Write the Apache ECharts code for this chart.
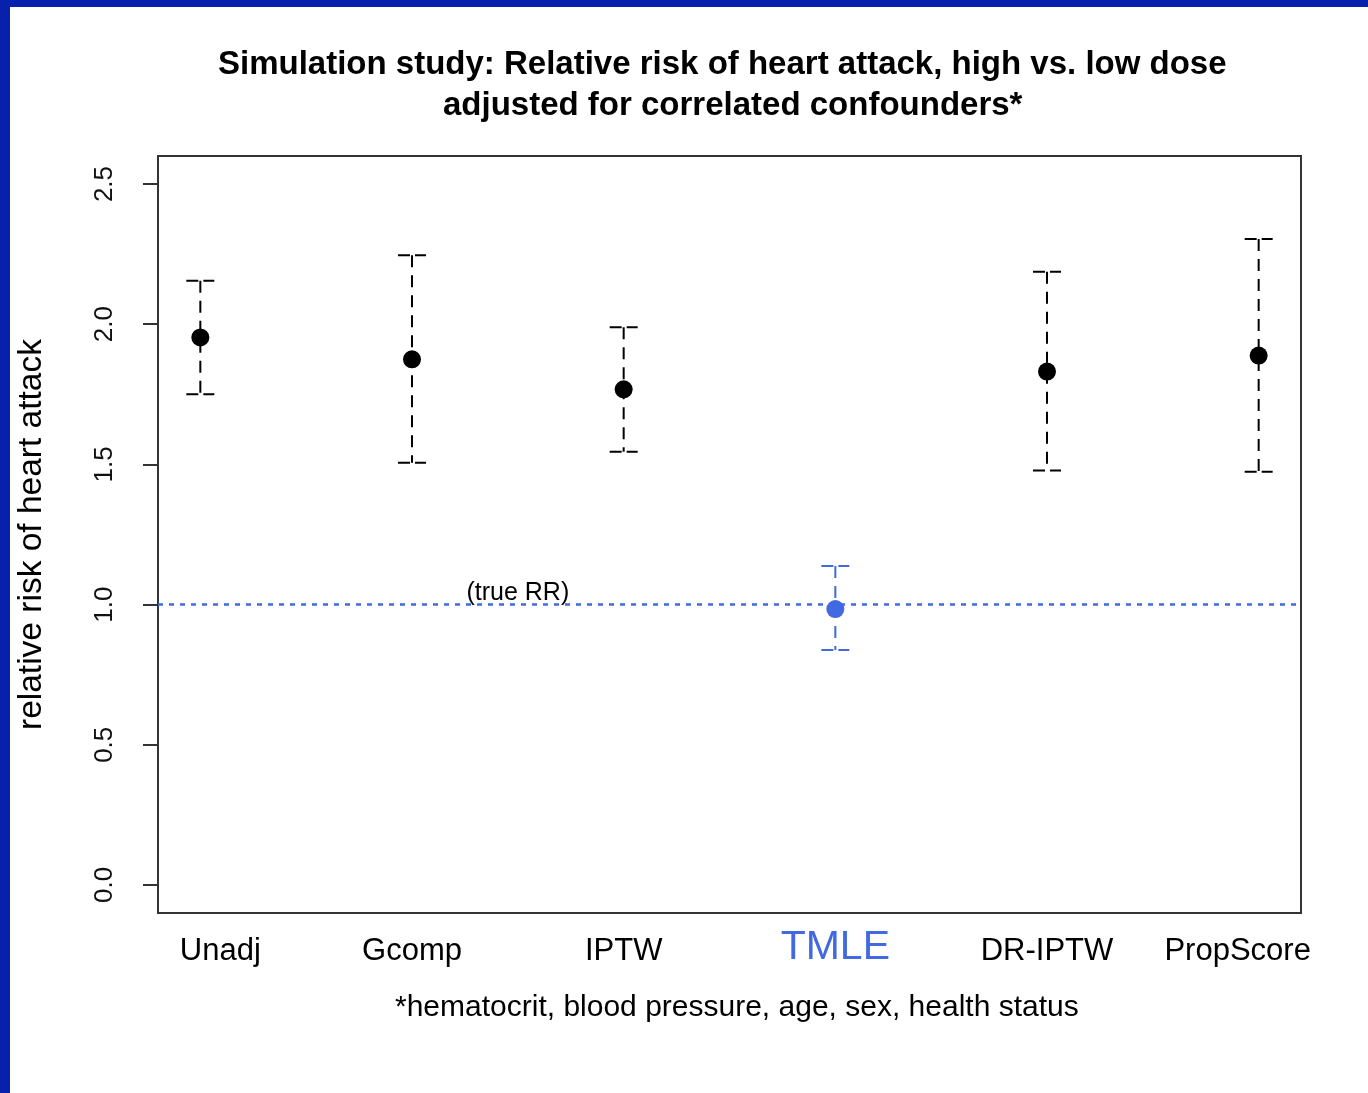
<!DOCTYPE html>
<html>
<head>
<meta charset="utf-8">
<script src="https://cdn.jsdelivr.net/npm/echarts@6/dist/echarts.min.js"></script>
<style>
  html, body { margin: 0; padding: 0; background: #fff; }
  #chart { position: absolute; left: 0; top: 0; width: 1368px; height: 1093px; background: #fff; }
  .edge { position: absolute; background: #0721ac; }
</style>
</head>
<body>
<div id="chart"></div>
<div class="edge" style="left:0;top:0;width:1368px;height:7px"></div>
<div class="edge" style="left:0;top:0;width:10px;height:1093px"></div>
<script>
// estimators, in plotting order (x = 1..6)
const methods = ['Unadj', 'Gcomp', 'IPTW', 'TMLE', 'DR-IPTW', 'PropScore'];
// point estimates of the relative risk
const estimate = [1.953, 1.875, 1.768, 0.984, 1.831, 1.888];
// lower / upper ends of the intervals
const lower = [1.750, 1.506, 1.545, 0.838, 1.478, 1.474];
const upper = [2.155, 2.246, 1.989, 1.138, 2.187, 2.304];
// y axis ticks
const yTicks = [0, 0.5, 1.0, 1.5, 2.0, 2.5];
// reference line (true RR) and where its note sits
const trueRR = 1.0;
const trueRRNote = [2.5, 1.04];

const BLUE = '#4169e1';
const INK = '#000';
const FONT = '"Liberation Sans", Arial, Helvetica, sans-serif';

const colorOf = (name) => (name === 'TMLE' ? BLUE : INK);

const points = methods.map((m, i) => ({
  value: [i + 1, estimate[i]],
  itemStyle: { color: colorOf(m), opacity: 1 }
}));
const bars = methods.map((m, i) => [i + 1, lower[i], upper[i]]);

const chart = echarts.init(document.getElementById('chart'));
chart.setOption({
  backgroundColor: '#fff',
  animation: false,
  textStyle: { fontFamily: FONT },
  grid: {
    left: 158, top: 156, right: 67, bottom: 180,
    show: true, borderColor: '#333', borderWidth: 2, backgroundColor: 'transparent'
  },
  graphic: [
    {
      type: 'text', left: 218, top: 48,
      style: {
        text: 'Simulation study: Relative risk of heart attack, high vs. low dose',
        font: 'bold 33px ' + FONT, fill: INK
      }
    },
    {
      type: 'text', left: 443, top: 89,
      style: {
        text: 'adjusted for correlated confounders*',
        font: 'bold 33px ' + FONT, fill: INK
      }
    },
    {
      type: 'text', left: 395, top: 993,
      style: {
        text: '*hematocrit, blood pressure, age, sex, health status',
        font: '30px ' + FONT, fill: INK
      }
    }
  ],
  xAxis: {
    type: 'value',
    min: 0.8,
    max: 6.2,
    splitLine: { show: false },
    axisLine: { show: false },
    axisTick: { show: false },
    axisLabel: {
      customValues: methods.map((m, i) => i + 1),
      margin: 20,
      formatter: (v) => {
        const m = methods[Math.round(v) - 1];
        if (m === 'TMLE') return '{hl|' + m + '}';
        if (v === 1) return '{first|' + m + '}';
        if (v === methods.length) return '{last|' + m + '}';
        return '{n|' + m + '}';
      },
      rich: {
        n: { fontSize: 31, lineHeight: 36, color: INK, fontFamily: FONT },
        first: { fontSize: 31, lineHeight: 36, color: INK, fontFamily: FONT, padding: [0, 0, 0, 40] },
        last: { fontSize: 31, lineHeight: 36, color: INK, fontFamily: FONT, padding: [0, 42, 0, 0] },
        hl: { fontSize: 41, lineHeight: 30, color: BLUE, fontFamily: FONT }
      }
    }
  },
  yAxis: {
    type: 'value',
    min: -0.1,
    max: 2.6,
    name: 'relative risk of heart attack',
    nameLocation: 'middle',
    nameGap: 109,
    nameTextStyle: { fontSize: 33.5, color: INK, fontFamily: FONT },
    splitLine: { show: false },
    axisLine: { show: false },
    axisTick: {
      show: true, customValues: yTicks, length: 15, inside: false,
      lineStyle: { color: '#333', width: 2 }
    },
    axisLabel: {
      customValues: yTicks,
      rotate: 90,
      margin: 40,
      fontSize: 26,
      color: '#111',
      formatter: (v) => v.toFixed(1)
    }
  },
  series: [
    {
      type: 'scatter',
      name: 'note',
      symbolSize: 0,
      silent: true,
      itemStyle: { opacity: 1 },
      data: [trueRRNote],
      label: {
        show: true, position: 'inside', formatter: '(true RR)',
        fontSize: 25, color: INK, opacity: 1, fontFamily: FONT
      },
      markLine: {
        silent: true,
        symbol: 'none',
        label: { show: false },
        lineStyle: { color: BLUE, width: 2.5, type: [5, 6], opacity: 1 },
        data: [{ yAxis: trueRR }]
      },
      z: 1
    },
    {
      type: 'custom',
      name: 'interval',
      data: bars,
      encode: { x: 0, y: [1, 2] },
      renderItem: (params, api) => {
        const x = api.value(0);
        const top = api.coord([x, api.value(2)]);
        const bot = api.coord([x, api.value(1)]);
        const w = 14;
        const style = {
          stroke: colorOf(methods[params.dataIndex]),
          lineWidth: 2,
          lineDash: [12, 8],
          fill: null
        };
        const capStyle = Object.assign({}, style, { lineDash: [12, 5] });
        return {
          type: 'group',
          children: [
            { type: 'line', shape: { x1: top[0], y1: top[1], x2: bot[0], y2: bot[1] }, style: style },
            { type: 'line', shape: { x1: top[0] - w, y1: top[1], x2: top[0] + w, y2: top[1] }, style: capStyle },
            { type: 'line', shape: { x1: bot[0] - w, y1: bot[1], x2: bot[0] + w, y2: bot[1] }, style: capStyle }
          ]
        };
      },
      z: 2
    },
    {
      type: 'scatter',
      name: 'estimate',
      symbol: 'circle',
      symbolSize: 18,
      itemStyle: { opacity: 1 },
      data: points,
      z: 3
    }
  ]
});
</script>
</body>
</html>
